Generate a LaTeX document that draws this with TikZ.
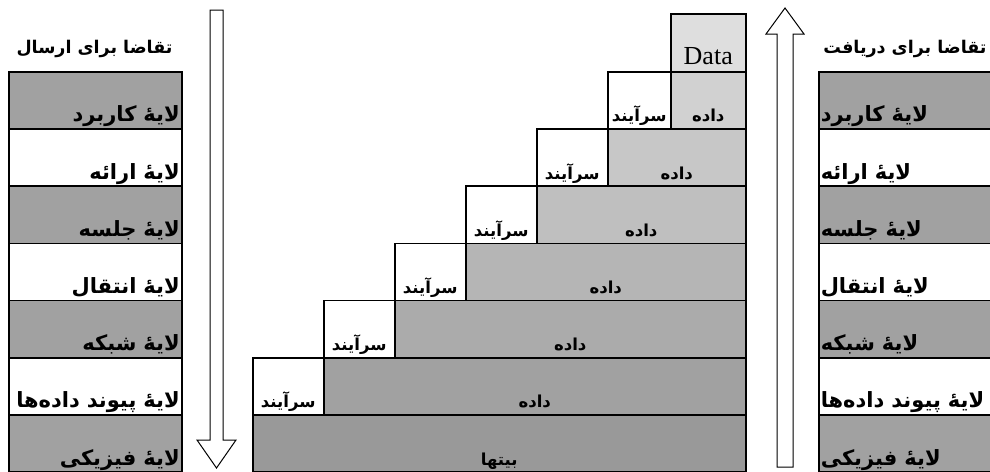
\documentclass[tikz,border=0pt]{standalone}
\usepackage{fontspec}
\setmainfont{Liberation Serif}
\newfontfamily\farsi[Script=Arabic]{DejaVu Sans}
\TeXXeTstate=1
\usepackage{tikz}
\usetikzlibrary{positioning}
\newcommand{\rtl}[1]{\beginR #1\endR}
\definecolor{stackgray}{gray}{0.63}
\definecolor{data0}{gray}{0.87}
\definecolor{data1}{gray}{0.82}
\definecolor{data2}{gray}{0.78}
\definecolor{data3}{gray}{0.75}
\definecolor{data4}{gray}{0.71}
\definecolor{data5}{gray}{0.67}
\definecolor{data6}{gray}{0.63}
\definecolor{bitsgray}{gray}{0.60}

\begin{document}
\begin{tikzpicture}[
	x=1pt, y=-1pt,
	line width=1.5pt,
	font=\farsi\bfseries
]
\tikzset{
    cell/.style = {rectangle, draw=black, anchor=north west, inner xsep=2pt, inner ysep=0pt, text height=50.2pt, text depth=7pt},
    layer/.style = {cell, minimum width=173pt, text width=169pt, font=\farsi\bfseries\fontsize{21}{24}\selectfont},
    hdr/.style = {cell, fill=white, minimum width=71pt, font=\farsi\bfseries\fontsize{16.5}{19}\selectfont},
    dat/.style = {cell, font=\farsi\bfseries\fontsize{16.5}{19}\selectfont},
    bigarrow/.style = {draw=black, fill=white, line width=1pt, line join=miter}
}
\useasboundingbox (0,0) rectangle (990,471);
\clip (0,0) rectangle (990,471);

% titles
\node[font=\farsi\bfseries\fontsize{17.5}{20}\selectfont] (sendtitle) at (94.5,49) {\rtl{تقاضا برای ارسال}};
\node[font=\farsi\bfseries\fontsize{17.5}{20}\selectfont] (recvtitle) at (905,49) {\rtl{تقاضا برای دریافت}};

% sending side
\node[layer, fill=stackgray, align=right] (s1) at (8,71) {\rtl{لایهٔ کاربرد}};
\node[layer, fill=white, align=right] (s2) at (8,128.2) {\rtl{لایهٔ ارائه}};
\node[layer, fill=stackgray, align=right] (s3) at (8,185.4) {\rtl{لایهٔ جلسه}};
\node[layer, fill=white, align=right] (s4) at (8,242.6) {\rtl{لایهٔ انتقال}};
\node[layer, fill=stackgray, align=right] (s5) at (8,299.8) {\rtl{لایهٔ شبکه}};
\node[layer, fill=white, align=right] (s6) at (8,357) {\rtl{لایهٔ پیوند داده‌ها}};
\node[layer, fill=stackgray, align=right] (s7) at (8,414.2) {\rtl{لایهٔ فیزیکی}};

% receiving side
\node[layer, fill=stackgray, align=left] (r1) at (818,71) {\rtl{لایهٔ کاربرد}};
\node[layer, fill=white, align=left] (r2) at (818,128.2) {\rtl{لایهٔ ارائه}};
\node[layer, fill=stackgray, align=left] (r3) at (818,185.4) {\rtl{لایهٔ جلسه}};
\node[layer, fill=white, align=left] (r4) at (818,242.6) {\rtl{لایهٔ انتقال}};
\node[layer, fill=stackgray, align=left] (r5) at (818,299.8) {\rtl{لایهٔ شبکه}};
\node[layer, fill=white, align=left] (r6) at (818,357) {\rtl{لایهٔ پیوند داده‌ها}};
\node[layer, fill=stackgray, align=left] (r7) at (818,414.2) {\rtl{لایهٔ فیزیکی}};

% big arrows
\draw[bigarrow] (210,10) -- (223,10) -- (223,440) -- (236,440) -- (216.5,468)
    -- (197,440) -- (210,440) -- cycle;
\draw[bigarrow] (777,467) -- (793,467) -- (793,34) -- (804,34) -- (785,8)
    -- (766,34) -- (777,34) -- cycle;

% encapsulation steps
\node[cell, fill=data0, minimum width=75pt, text height=51pt, font=\fontsize{26}{28}\selectfont] (d0) at (670,13) {Data};
\node[hdr, minimum width=63pt] (h1) at (607,71) {\rtl{سرآیند}};
\node[dat, fill=data1, minimum width=75pt] (d1) at (670,71) {\rtl{داده}};
\node[hdr] (h2) at (536,128.2) {\rtl{سرآیند}};
\node[dat, fill=data2, minimum width=138pt] (d2) at (607,128.2) {\rtl{داده}};
\node[hdr] (h3) at (465,185.4) {\rtl{سرآیند}};
\node[dat, fill=data3, minimum width=209pt] (d3) at (536,185.4) {\rtl{داده}};
\node[hdr] (h4) at (394,242.6) {\rtl{سرآیند}};
\node[dat, fill=data4, minimum width=280pt] (d4) at (465,242.6) {\rtl{داده}};
\node[hdr] (h5) at (323,299.8) {\rtl{سرآیند}};
\node[dat, fill=data5, minimum width=351pt] (d5) at (394,299.8) {\rtl{داده}};
\node[hdr] (h6) at (252,357) {\rtl{سرآیند}};
\node[dat, fill=data6, minimum width=422pt] (d6) at (323,357) {\rtl{داده}};
\node[dat, fill=bitsgray, minimum width=493pt] (bits) at (252,414.2) {\rtl{بیتها}};
\end{tikzpicture}
\end{document}
